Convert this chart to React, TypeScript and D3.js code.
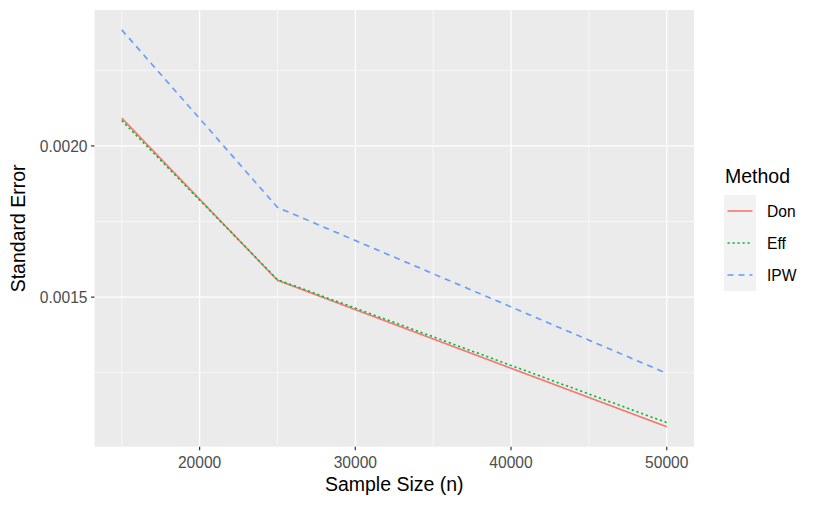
import * as d3 from 'd3';

const sampleSizes = [15000, 25000, 50000];
const donSE = [0.002092, 0.001556, 0.001071];
const effSE = [0.002084, 0.001558, 0.001085];
const ipwSE = [0.002384, 0.001797, 0.001248];

const xMajor = [20000, 30000, 40000, 50000];
const xMinor = [15000, 25000, 35000, 45000];
const yMajor = [0.0015, 0.002];
const yMinor = [0.00125, 0.00175, 0.00225];

const methods = [
  { name: 'Don', values: donSE, color: '#F8766D', dash: 'none' },
  { name: 'Eff', values: effSE, color: '#00BA38', dash: '2.2,2.8' },
  { name: 'IPW', values: ipwSE, color: '#619CFF', dash: '6,5' },
];

const font = 'Liberation Sans, Arial, Helvetica, sans-serif';
const tickSize = 15.6;
const titleSize = 19.5;

export default function App() {
  const width = 817;
  const height = 506;
  const panel = { left: 94.5, right: 694, top: 10, bottom: 446.7 };

  const all = [...donSE, ...effSE, ...ipwSE];
  const yMin = d3.min(all) as number;
  const yMax = d3.max(all) as number;
  const yPad = (yMax - yMin) * 0.05;
  const xPad = (50000 - 15000) * 0.05;

  const x = d3.scaleLinear().domain([15000 - xPad, 50000 + xPad]).range([panel.left, panel.right]);
  const y = d3.scaleLinear().domain([yMin - yPad, yMax + yPad]).range([panel.bottom, panel.top]);

  const line = d3
    .line<number>()
    .x((_, i) => x(sampleSizes[i]))
    .y((d) => y(d));

  const legendX = 724;
  const legendY = 195;
  const keySize = 32;

  return (
    <svg width={width} height={height} style={{ position: 'absolute', left: 0, top: 0, background: '#fff' }} fontFamily={font}>
      <rect x={panel.left} y={panel.top} width={panel.right - panel.left} height={panel.bottom - panel.top} fill="#EBEBEB" />
      {xMinor.map((t) => (
        <line key={'xm' + t} x1={x(t)} x2={x(t)} y1={panel.top} y2={panel.bottom} stroke="#fff" strokeWidth={0.6} />
      ))}
      {yMinor.map((t) => (
        <line key={'ym' + t} x1={panel.left} x2={panel.right} y1={y(t)} y2={y(t)} stroke="#fff" strokeWidth={0.6} />
      ))}
      {xMajor.map((t) => (
        <line key={'xM' + t} x1={x(t)} x2={x(t)} y1={panel.top} y2={panel.bottom} stroke="#fff" strokeWidth={1.2} />
      ))}
      {yMajor.map((t) => (
        <line key={'yM' + t} x1={panel.left} x2={panel.right} y1={y(t)} y2={y(t)} stroke="#fff" strokeWidth={1.2} />
      ))}

      {methods.map((m) => (
        <path key={m.name} d={line(m.values) ?? ''} fill="none" stroke={m.color} strokeWidth={1.6} strokeDasharray={m.dash} />
      ))}

      {xMajor.map((t) => (
        <g key={'xt' + t}>
          <line x1={x(t)} x2={x(t)} y1={panel.bottom} y2={panel.bottom + 3.5} stroke="#333" strokeWidth={1.2} />
          <text x={x(t)} y={467.7} textAnchor="middle" fontSize={tickSize} fill="#4D4D4D">
            {t}
          </text>
        </g>
      ))}
      {yMajor.map((t) => (
        <g key={'yt' + t}>
          <line x1={panel.left - 3.5} x2={panel.left} y1={y(t)} y2={y(t)} stroke="#333" strokeWidth={1.2} />
          <text x={panel.left - 7} y={y(t) + 5.8} textAnchor="end" fontSize={tickSize} fill="#4D4D4D">
            {d3.format('.4f')(t)}
          </text>
        </g>
      ))}

      <text x={(panel.left + panel.right) / 2} y={491} textAnchor="middle" fontSize={titleSize} fill="#000">
        Sample Size (n)
      </text>
      <text transform={`translate(25, ${(panel.top + panel.bottom) / 2}) rotate(-90)`} textAnchor="middle" fontSize={titleSize} fill="#000">
        Standard Error
      </text>

      <text x={legendX + 1} y={183.3} fontSize={titleSize} fill="#000">
        Method
      </text>
      {methods.map((m, i) => {
        const cy = legendY + i * keySize + keySize / 2;
        return (
          <g key={'lg' + m.name}>
            <rect x={legendX} y={legendY + i * keySize} width={keySize} height={keySize} fill="#F2F2F2" />
            <line x1={legendX + 3.5} x2={legendX + keySize - 3.5} y1={cy} y2={cy} stroke={m.color} strokeWidth={1.6} strokeDasharray={m.dash} />
            <text x={legendX + keySize + 11} y={cy + 5.7} fontSize={tickSize} fill="#000">
              {m.name}
            </text>
          </g>
        );
      })}
    </svg>
  );
}
